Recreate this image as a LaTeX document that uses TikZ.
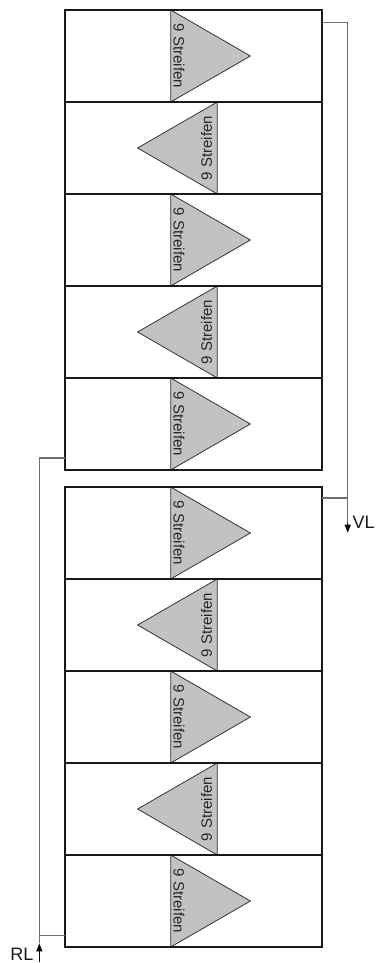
\documentclass[tikz,border=0pt]{standalone}
\usepackage{fontspec}
\setmainfont{Liberation Sans}
\usetikzlibrary{arrows.meta,calc}
\definecolor{trifill}{RGB}{194,194,194}
\definecolor{connc}{RGB}{110,110,110}
\begin{document}
\begin{tikzpicture}[x=1pt,y=-1pt,
  cell/.style={draw=black!90, line width=2pt, minimum width=257pt, minimum height=92pt, inner sep=0pt, outer sep=0pt},
  tri/.style={fill=trifill, draw=black!80, line width=0.8pt},
  lab/.style={font=\fontsize{15}{17}\selectfont, text=black!85, inner sep=0pt},
  conn/.style={draw=connc, line width=1.3pt},
  flow/.style={draw=black, line width=1.2pt, -{Triangle[length=8pt,width=6pt]}},
  big/.style={font=\fontsize{18}{20}\selectfont, text=black!90, inner sep=0pt}]
\useasboundingbox (0,0) rectangle (375,963);
% triangles and texts
\foreach \blk/\yy in {a/10,b/487}{
  \foreach \i in {0,2,4}{
    \draw[tri] (170.7,{\yy+92*\i}) -- (250.4,{\yy+46+92*\i}) -- (170.7,{\yy+92+92*\i}) -- cycle;
    \node[lab,rotate=-90] (t\blk\i) at (179,{\yy+46+92*\i}) {9 Streifen};
  }
  \foreach \i in {1,3}{
    \draw[tri] (217.3,{\yy+92*\i}) -- (137.6,{\yy+46+92*\i}) -- (217.3,{\yy+92+92*\i}) -- cycle;
    \node[lab,rotate=90] (t\blk\i) at (206.5,{\yy+46+92*\i}) {9 Streifen};
  }
  \foreach \i in {0,...,4}{
    \node[cell] (\blk\i) at (193.3,{\yy+46+92*\i}) {};
  }
}
% connectors
\coordinate (vA) at ($(a0.north east)+(0,12.7)$);
\coordinate (vB) at ($(b0.north east)+(0,11)$);
\coordinate (vEnd) at (347.7,532.7);
\draw[conn] (vA) -| ($(vEnd)+(0,-9)$);
\draw[conn] (vB) -- (vB -| vEnd);
\draw[flow] ($(vEnd)+(0,-10)$) -- (vEnd);
\node[big,anchor=west] (vl) at (352.3,522.5) {VL};
\coordinate (rA) at ($(a4.south west)+(0,-12)$);
\coordinate (rB) at ($(b4.south west)+(0,-11.3)$);
\coordinate (rEnd) at (39.3,962);
\coordinate (rTip) at (39.3,943.3);
\draw[conn] (rA) -| (rTip);
\draw[conn] (rB) -- (rB -| rEnd);
\draw[flow] (rEnd) -- (rTip);
\node[big,anchor=east] (rl) at (33.5,954.5) {RL};
\end{tikzpicture}
\end{document}
